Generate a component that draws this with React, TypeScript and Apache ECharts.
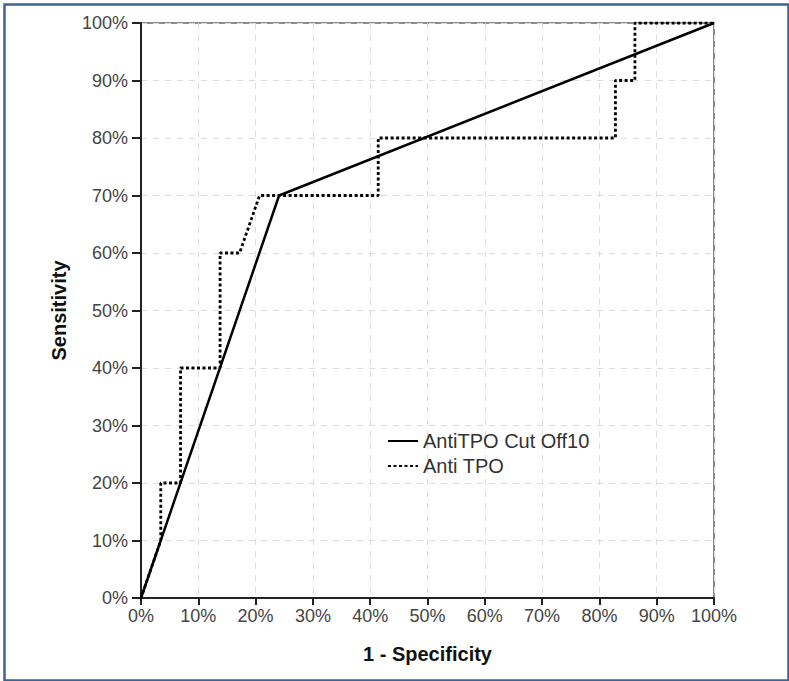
import React, { useEffect, useRef } from "react";
import * as echarts from "echarts";

// ROC coordinates: 1 - specificity (x) and sensitivity (y)
const cutOffName = "AntiTPO Cut Off10";
const cutOffFpr = [0, 0.241, 1];
const cutOffTpr = [0, 0.7, 1];

const antiTpoName = "Anti TPO";
const antiTpoFpr = [0, 0.0345, 0.0345, 0.069, 0.069, 0.138, 0.138, 0.172, 0.207, 0.414, 0.414, 0.828, 0.828, 0.862, 0.862, 1.0];
const antiTpoTpr = [0, 0.1, 0.2, 0.2, 0.4, 0.4, 0.6, 0.6, 0.7, 0.7, 0.8, 0.8, 0.9, 0.9, 1.0, 1.0];

const xTitle = "1 - Specificity";
const yTitle = "Sensitivity";

const FONT = "'Liberation Sans', Arial, sans-serif";

const pct = (v: number) => `${Math.round(v * 100)}%`;

export default function App() {
  const ref = useRef<HTMLDivElement>(null);

  useEffect(() => {
    if (!ref.current) return;
    const chart = echarts.init(ref.current, null, { renderer: "svg" });

    const axisCommon = {
      type: "value" as const,
      min: 0,
      max: 1,
      interval: 0.1,
      nameLocation: "middle" as const,
      nameTextStyle: { fontFamily: FONT, fontSize: 20, fontWeight: "bold" as const, color: "#111" },
      axisLine: { show: true, onZero: false, lineStyle: { color: "#222", width: 2 } },
      axisTick: { show: true, inside: false, lineStyle: { color: "#222", width: 2 } },
      axisLabel: { fontFamily: FONT, fontSize: 18, color: "#444", formatter: pct },
      splitLine: { show: true, lineStyle: { color: "#dcdcdc", width: 1, type: [6, 6] } },
    };

    chart.setOption({
      animation: false,
      backgroundColor: "#fff",
      grid: {
        left: 141,
        top: 23,
        right: 75,
        bottom: 83,
        show: true,
        borderColor: "#666",
        borderWidth: 1.5,
        backgroundColor: "transparent",
      },
      xAxis: {
        ...axisCommon,
        name: xTitle,
        nameGap: 46,
        axisTick: { ...axisCommon.axisTick, length: 7 },
        axisLabel: { ...axisCommon.axisLabel, margin: 9 },
      },
      yAxis: {
        ...axisCommon,
        name: yTitle,
        nameGap: 72,
        axisTick: { ...axisCommon.axisTick, length: 9 },
        axisLabel: { ...axisCommon.axisLabel, margin: 13 },
      },
      legend: {
        orient: "vertical",
        left: 382,
        top: 426,
        itemWidth: 30,
        itemHeight: 14,
        itemGap: 5,
        itemStyle: { opacity: 0 },
        textStyle: { fontFamily: FONT, fontSize: 20, color: "#333" },
        data: [cutOffName, antiTpoName],
      },
      series: [
        {
          name: cutOffName,
          type: "line",
          symbol: "none",
          data: cutOffFpr.map((x, i) => [x, cutOffTpr[i]]),
          lineStyle: { color: "#000", width: 2.5, type: "solid" },
          itemStyle: { color: "#000" },
        },
        {
          name: antiTpoName,
          type: "line",
          symbol: "none",
          data: antiTpoFpr.map((x, i) => [x, antiTpoTpr[i]]),
          lineStyle: { color: "#000", width: 2.8, type: [3, 2.5] },
          itemStyle: { color: "#000" },
        },
      ],
      graphic: [
        {
          type: "rect",
          left: 2,
          top: 2,
          shape: { width: 784, height: 676 },
          style: { fill: "none", stroke: "#3b6493", lineWidth: 2.5 },
          silent: true,
        },
      ],
    });

    return () => chart.dispose();
  }, []);

  return (
    <div
      ref={ref}
      style={{ position: "fixed", left: 0, top: 0, width: 789, height: 681, background: "#fff" }}
    />
  );
}
